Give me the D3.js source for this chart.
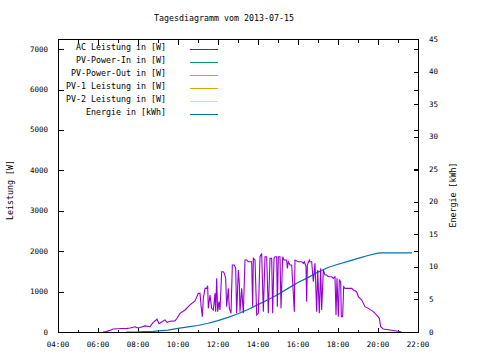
<!DOCTYPE html>
<html><head><meta charset="utf-8">
<script src="https://cdn.jsdelivr.net/npm/d3@7"></script>
<style>
html,body{margin:0;padding:0;background:#fff;}
svg{display:block;}
text{font-family:"DejaVu Sans Mono","Liberation Mono",monospace;fill:#000;}
</style></head>
<body>
<svg id="chart" width="480" height="360"></svg>
<script>
// ---- data (time in minutes since midnight) ----
const title = "Tagesdiagramm vom 2013-07-15";
const yLabel = "Leistung [W]";
const y2Label = "Energie [kWh]";
const legendLabels = ["AC Leistung in [W]","PV-Power-In in [W]","PV-Power-Out in [W]","PV-1 Leistung in [W]","PV-2 Leistung in [W]","Energie in [kWh]"];
const legendColors = ["#9400d3","#009e73","#56b4e9","#e69f00","#f0e442","#0072b2"];
const xTickValues = [240,360,480,600,720,840,960,1080,1200,1320];
const xTickLabels = ["04:00","06:00","08:00","10:00","12:00","14:00","16:00","18:00","20:00","22:00"];
const xMinorTicks = [300,420,540,660,780,900,1020,1140,1260];
const yTicks = [0,1000,2000,3000,4000,5000,6000,7000];
const y2Ticks = [0,5,10,15,20,25,30,35,40,45];

const acTimes = [375,384,396,405,420,432,447,456,471,477,486,501,516,525,537,543,552,561,567,576,591,597,606,621,636,651,
661,666,669,673,676,681,686,689,691,696,701,706,711,713,716,719,723,726,731,736,739,743,746,751,754,759,763,769,773,776,781,784,786,791,796,801,806,811,816,821,824,826,831,836,841,846,851,856,861,866,871,
876,881,884,888,891,896,898,901,906,909,914,918,926,928,931,936,941,946,949,951,961,971,976,979,984,986,988,994,996,1001,1006,1011,1016,1019,1024,1028,1031,1036,1041,1046,1051,1061,1066,1071,1074,1077,1081,1084,1088,1090,1094,1097,1101,1121,1126,1136,1141,1151,1161,1176,1186,1196,1204,1208,1216,1236,1256,1271];
const acValues = [0,10,40,75,80,85,90,100,130,105,110,150,130,230,315,205,255,300,240,265,275,340,460,545,670,770,
956,956,668,379,833,1080,1080,1145,585,915,585,544,956,503,1327,503,750,544,1492,1492,1451,1327,626,1080,585,462,1657,1657,1575,462,1533,1204,503,1080,462,1780,1780,1739,1739,1739,626,1822,1780,420,462,1863,1945,503,1863,1863,462,
1822,1822,462,1822,1863,1863,626,1863,1863,585,1863,1780,1780,1575,1739,1657,1657,956,503,1780,1739,1739,1700,1739,1620,750,1657,1780,1739,1739,1245,1700,503,1533,462,1575,544,1533,1410,1410,1368,1368,1327,1368,420,1327,379,1285,1245,379,379,1121,1080,1080,1039,997,874,792,626,560,503,420,338,132,75,50,25,0];

const energyTimes = [445,480,525,570,600,630,660,690,720,750,780,810,840,870,900,930,960,990,1020,1050,1080,1110,1140,1170,1200,1215,1302];
const energyValues = [0,0.02,0.1,0.3,0.55,0.8,1.0,1.35,1.75,2.25,2.8,3.45,4.2,4.95,5.75,6.7,7.6,8.35,9.2,9.9,10.4,10.85,11.3,11.75,12.1,12.15,12.15];

// ---- layout ----
const L = 58, R = 418, T = 39, B = 332;
const svg = d3.select("#chart");
const x = d3.scaleLinear().domain([240,1320]).range([L,R]);
const y = d3.scaleLinear().domain([0,7250]).range([B,T]);
const y2 = d3.scaleLinear().domain([0,45]).range([B,T]);
const px = v => Math.round(v) + 0.5;

const g = svg.append("g");
const tick = (x1,y1,x2,y2_) => g.append("line").attr("x1",x1).attr("y1",y1).attr("x2",x2).attr("y2",y2_)
  .attr("stroke","#000").attr("stroke-width",1).attr("shape-rendering","crispEdges");

// x ticks (bottom & mirrored top)
xTickValues.forEach((v,i)=>{
  const xx = px(x(v));
  tick(xx,B+0.5,xx,B+0.5-5); tick(xx,T+0.5,xx,T+0.5+5);
  g.append("text").attr("x",x(v)).attr("y",344).attr("text-anchor","middle").attr("dominant-baseline","central")
    .style("font-size","7.5px").text(xTickLabels[i]);
});
xMinorTicks.forEach(v=>{
  const xx = px(x(v));
  tick(xx,B+0.5,xx,B+0.5-3); tick(xx,T+0.5,xx,T+0.5+3);
});
// left y ticks (and mirrored on the right)
yTicks.forEach(v=>{
  const yy = px(y(v));
  tick(L+0.5,yy,L+0.5+5,yy); tick(R+0.5,yy,R+0.5-5,yy);
  g.append("text").attr("x",48).attr("y",y(v)).attr("text-anchor","end").attr("dominant-baseline","central")
    .style("font-size","7.5px").text(v);
});
// right y2 ticks
y2Ticks.forEach(v=>{
  const yy = px(y2(v));
  tick(R+0.5,yy,R+0.5-5,yy);
  g.append("text").attr("x",429).attr("y",y2(v)).attr("text-anchor","start").attr("dominant-baseline","central")
    .style("font-size","7.5px").text(v);
});

// data lines
const acData = acTimes.map((t,i)=>[t,acValues[i]]);
const enData = energyTimes.map((t,i)=>[t,energyValues[i]]);
svg.append("path").datum(enData).attr("fill","none").attr("stroke",legendColors[5]).attr("stroke-width",1.2)
  .attr("d",d3.line().x(d=>x(d[0])).y(d=>y2(d[1])));
svg.append("path").datum(acData).attr("fill","none").attr("stroke",legendColors[0]).attr("stroke-width",1.1)
  .attr("d",d3.line().x(d=>x(d[0])).y(d=>y(d[1])));

// frame
svg.append("rect").attr("x",L+0.5).attr("y",T+0.5).attr("width",R-L).attr("height",B-T)
  .attr("fill","none").attr("stroke","#000").attr("stroke-width",1).attr("shape-rendering","crispEdges");

// legend
legendLabels.forEach((lab,i)=>{
  const ly = 49 + i*13;
  svg.append("text").attr("x",166).attr("y",ly-2).attr("text-anchor","end").attr("dominant-baseline","central")
    .style("font-size","8.3px").text(lab);
  svg.append("line").attr("x1",190).attr("x2",218).attr("y1",ly+0.5).attr("y2",ly+0.5)
    .attr("stroke",legendColors[i]).attr("stroke-width",1).attr("shape-rendering","crispEdges");
});

// title and axis labels
svg.append("text").attr("x",224).attr("y",18).attr("text-anchor","middle").attr("dominant-baseline","central")
  .style("font-size","8.3px").text(title);
svg.append("text").attr("transform","translate(10,190) rotate(-90)").attr("text-anchor","middle").attr("dominant-baseline","central")
  .style("font-size","8.3px").text(yLabel);
svg.append("text").attr("transform","translate(453,195) rotate(-90)").attr("text-anchor","middle").attr("dominant-baseline","central")
  .style("font-size","8.3px").text(y2Label);
</script>
</body></html>
